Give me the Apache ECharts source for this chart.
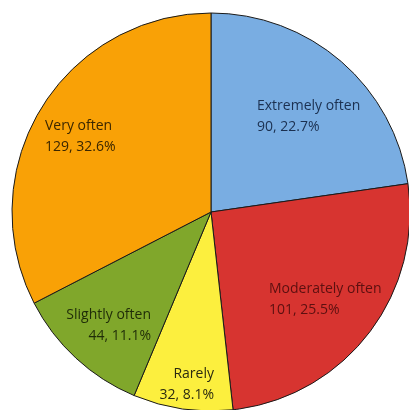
<!DOCTYPE html>
<html>
<head>
<meta charset="utf-8">
<script src="https://cdn.jsdelivr.net/npm/echarts@6/dist/echarts.min.js"></script>
<style>
  html, body { margin: 0; padding: 0; background: #ffffff; }
  #chart { width: 409px; height: 410px; }
</style>
</head>
<body>
<div id="chart"></div>
<script>
// Response categories in clockwise order starting at 12 o'clock
const categories = ['Extremely often', 'Moderately often', 'Rarely', 'Slightly often', 'Very often'];
const counts = [90, 101, 32, 44, 129];

const sliceColors = ['#79ade2', '#d73430', '#fcef3e', '#80a72b', '#f9a106'];
const labelColors = ['#1b3050', '#5c1010', '#2a2a10', '#1f2c08', '#3a2600'];

// Label anchor points and alignment for each slice
const labelSpots = [
  { x: 257, y: 117, align: 'left' },
  { x: 269, y: 300, align: 'left' },
  { x: 214, y: 385, align: 'right' },
  { x: 151, y: 326, align: 'right' },
  { x: 45, y: 137, align: 'left' }
];

const chart = echarts.init(document.getElementById('chart'), null, { renderer: 'canvas' });

chart.setOption({
  backgroundColor: '#ffffff',
  animation: false,
  series: [{
    type: 'pie',
    center: [211, 212],
    radius: 199,
    startAngle: 90,
    clockwise: true,
    percentPrecision: 1,
    data: categories.map((name, i) => ({
      name: name,
      value: counts[i],
      itemStyle: { color: sliceColors[i] },
      label: { color: labelColors[i], align: labelSpots[i].align }
    })),
    itemStyle: { borderColor: '#1a1a1a', borderWidth: 1 },
    label: {
      show: true,
      position: 'inside',
      formatter: '{b}\n{c}, {d}%',
      fontFamily: 'Open Sans',
      fontSize: 14,
      lineHeight: 21
    },
    labelLine: { show: false },
    labelLayout: function (params) {
      const s = labelSpots[params.dataIndex];
      return { x: s.x, y: s.y, align: s.align, verticalAlign: 'middle' };
    },
    emphasis: { disabled: true }
  }]
});
</script>
</body>
</html>
